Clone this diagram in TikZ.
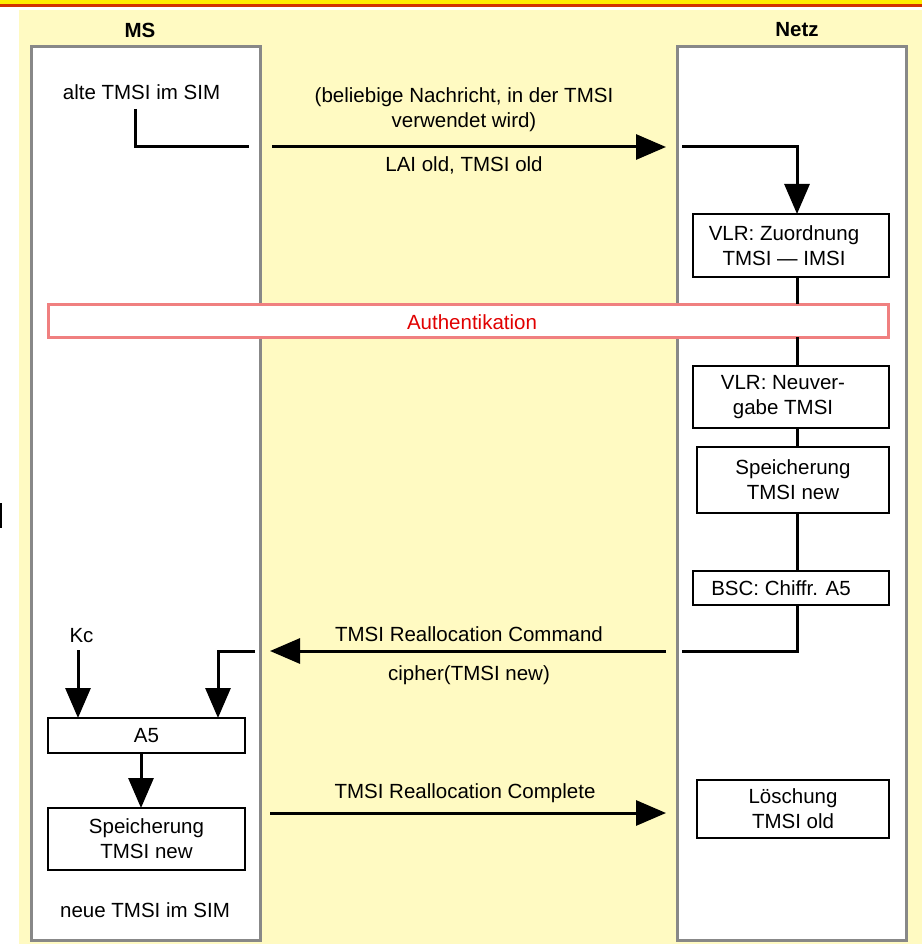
\documentclass[tikz,border=0pt]{standalone}
\usepackage{fontspec}
\setmainfont{Liberation Sans}
\usetikzlibrary{arrows.meta}
\definecolor{stripeY}{RGB}{255,236,0}
\definecolor{stripeR}{RGB}{210,50,0}
\definecolor{panel}{RGB}{255,250,194}
\definecolor{laneedge}{RGB}{136,136,136}
\definecolor{authedge}{RGB}{240,128,128}
\definecolor{authtext}{RGB}{225,0,0}
\begin{document}
\begin{tikzpicture}[x=1pt,y=-1pt,
  every node/.style={font=\fontsize{20.5}{25}\selectfont, inner sep=0pt, outer sep=0pt},
  lane/.style={draw=laneedge, line width=3pt, fill=white},
  box/.style={draw=black, line width=2pt, fill=white},
  txt/.style={align=center},
  title/.style={font=\fontsize{20.5}{25}\selectfont\bfseries},
  conn/.style={line width=3pt, line join=miter},
  arr/.style={line width=3pt, line join=miter, -{Triangle[length=30pt,width=25pt]}}]
\useasboundingbox (0,0) rectangle (922,944);

% page header stripes and panel
\fill[stripeY] (0,0) rectangle (922,4.5);
\fill[stripeR] (0,4.5) rectangle (922,6.8);
\fill[panel] (19,10) rectangle (922,944);
\draw[line width=1.5pt] (0.75,503) -- (0.75,528);

% swim lanes
\node[lane, minimum width=229, minimum height=893] (ms) at (145.5,493.5) {};
\node[lane, minimum width=229, minimum height=893] (netz) at (791.5,493.5) {};
\node[title] (msT) at (140,30) {MS};
\node[title] (netzT) at (797,30) {Netz};

% network side boxes
\node[box, minimum width=196, minimum height=63] (zuord) at (791,245.5) {};
\node[txt] (zuordT) at (784,245.5) {VLR: Zuordnung\\TMSI — IMSI};
\node[box, draw=authedge, line width=3pt, minimum width=840, minimum height=33] (auth) at (468,320.5) {};
\node[text=authtext] (authT) at (472,322) {Authentikation};
\node[box, minimum width=196, minimum height=62] (neuv) at (791,397) {};
\node[txt] (neuvT) at (783,397) {VLR: Neuver-\\gabe TMSI};
\node[box, minimum width=192, minimum height=66] (speichN) at (793,479.5) {};
\node[txt] (speichNT) at (793,479.5) {Speicherung\\TMSI new};
\node[box, minimum width=196, minimum height=34] (bsc) at (791,588) {};
\node (bscT) at (781,588) {BSC: Chiffr. A5};
\node[box, minimum width=192, minimum height=58] (loesch) at (793,809) {};
\node[txt] (loeschT) at (793,809) {Löschung\\TMSI old};

% mobile side boxes
\node[box, minimum width=197, minimum height=35] (a5) at (146.5,735.5) {};
\node (a5T) at (146.5,735.5) {A5};
\node[box, minimum width=197, minimum height=62] (speichM) at (146.5,839) {};
\node[txt] (speichMT) at (146.5,839) {Speicherung\\TMSI new};

% free texts
\node (alt) at (141.5,92) {alte TMSI im SIM};
\node (neu) at (145,910) {neue TMSI im SIM};
\node (kc) at (81.5,636) {Kc};
\node[txt] (msg1) at (464,109.5) {(beliebige Nachricht, in der TMSI\\verwendet wird)};
\node (msg1b) at (464,165) {LAI old, TMSI old};
\node (msg2) at (469,634) {TMSI Reallocation Command};
\node (msg2b) at (469,675) {cipher(TMSI new)};
\node (msg3) at (465,793) {TMSI Reallocation Complete};

% connector end points
\coordinate (col) at (797,0);
\coordinate (mA) at (135,109);
\coordinate (mB) at (249,147);
\coordinate (sA) at (272,147);
\coordinate (sB) at (666,147);
\coordinate (nA) at (682,147);
\coordinate (nB) at (682,651);
\coordinate (rA) at (666,651);
\coordinate (rB) at (270,651);
\coordinate (mC) at (255,651);
\coordinate (mcol) at (218,0);
\coordinate (kA) at (78,650);
\coordinate (acol) at (141,0);
\coordinate (cA) at (270,813);
\coordinate (cB) at (666,813);

% first message
\draw[conn] (mA) |- (mB);
\draw[arr] (sA) -- (sB);
\draw[arr] (nA) -| (zuord.north -| col);

% network chain
\draw[conn] (zuord.south -| col) -- (auth.north -| col);
\draw[conn] (auth.south -| col) -- (neuv.north -| col);
\draw[conn] (neuv.south -| col) -- (speichN.north -| col);
\draw[conn] (speichN.south -| col) -- (bsc.north -| col);
\draw[conn] (bsc.south -| col) |- (nB);

% reallocation command
\draw[arr] (rA) -- (rB);
\draw[arr] (mC) -| (a5.north -| mcol);
\draw[arr] (kA) -- (a5.north -| kA);
\draw[arr] (a5.south -| acol) -- (speichM.north -| acol);

% reallocation complete
\draw[arr] (cA) -- (cB);
\end{tikzpicture}
\end{document}
